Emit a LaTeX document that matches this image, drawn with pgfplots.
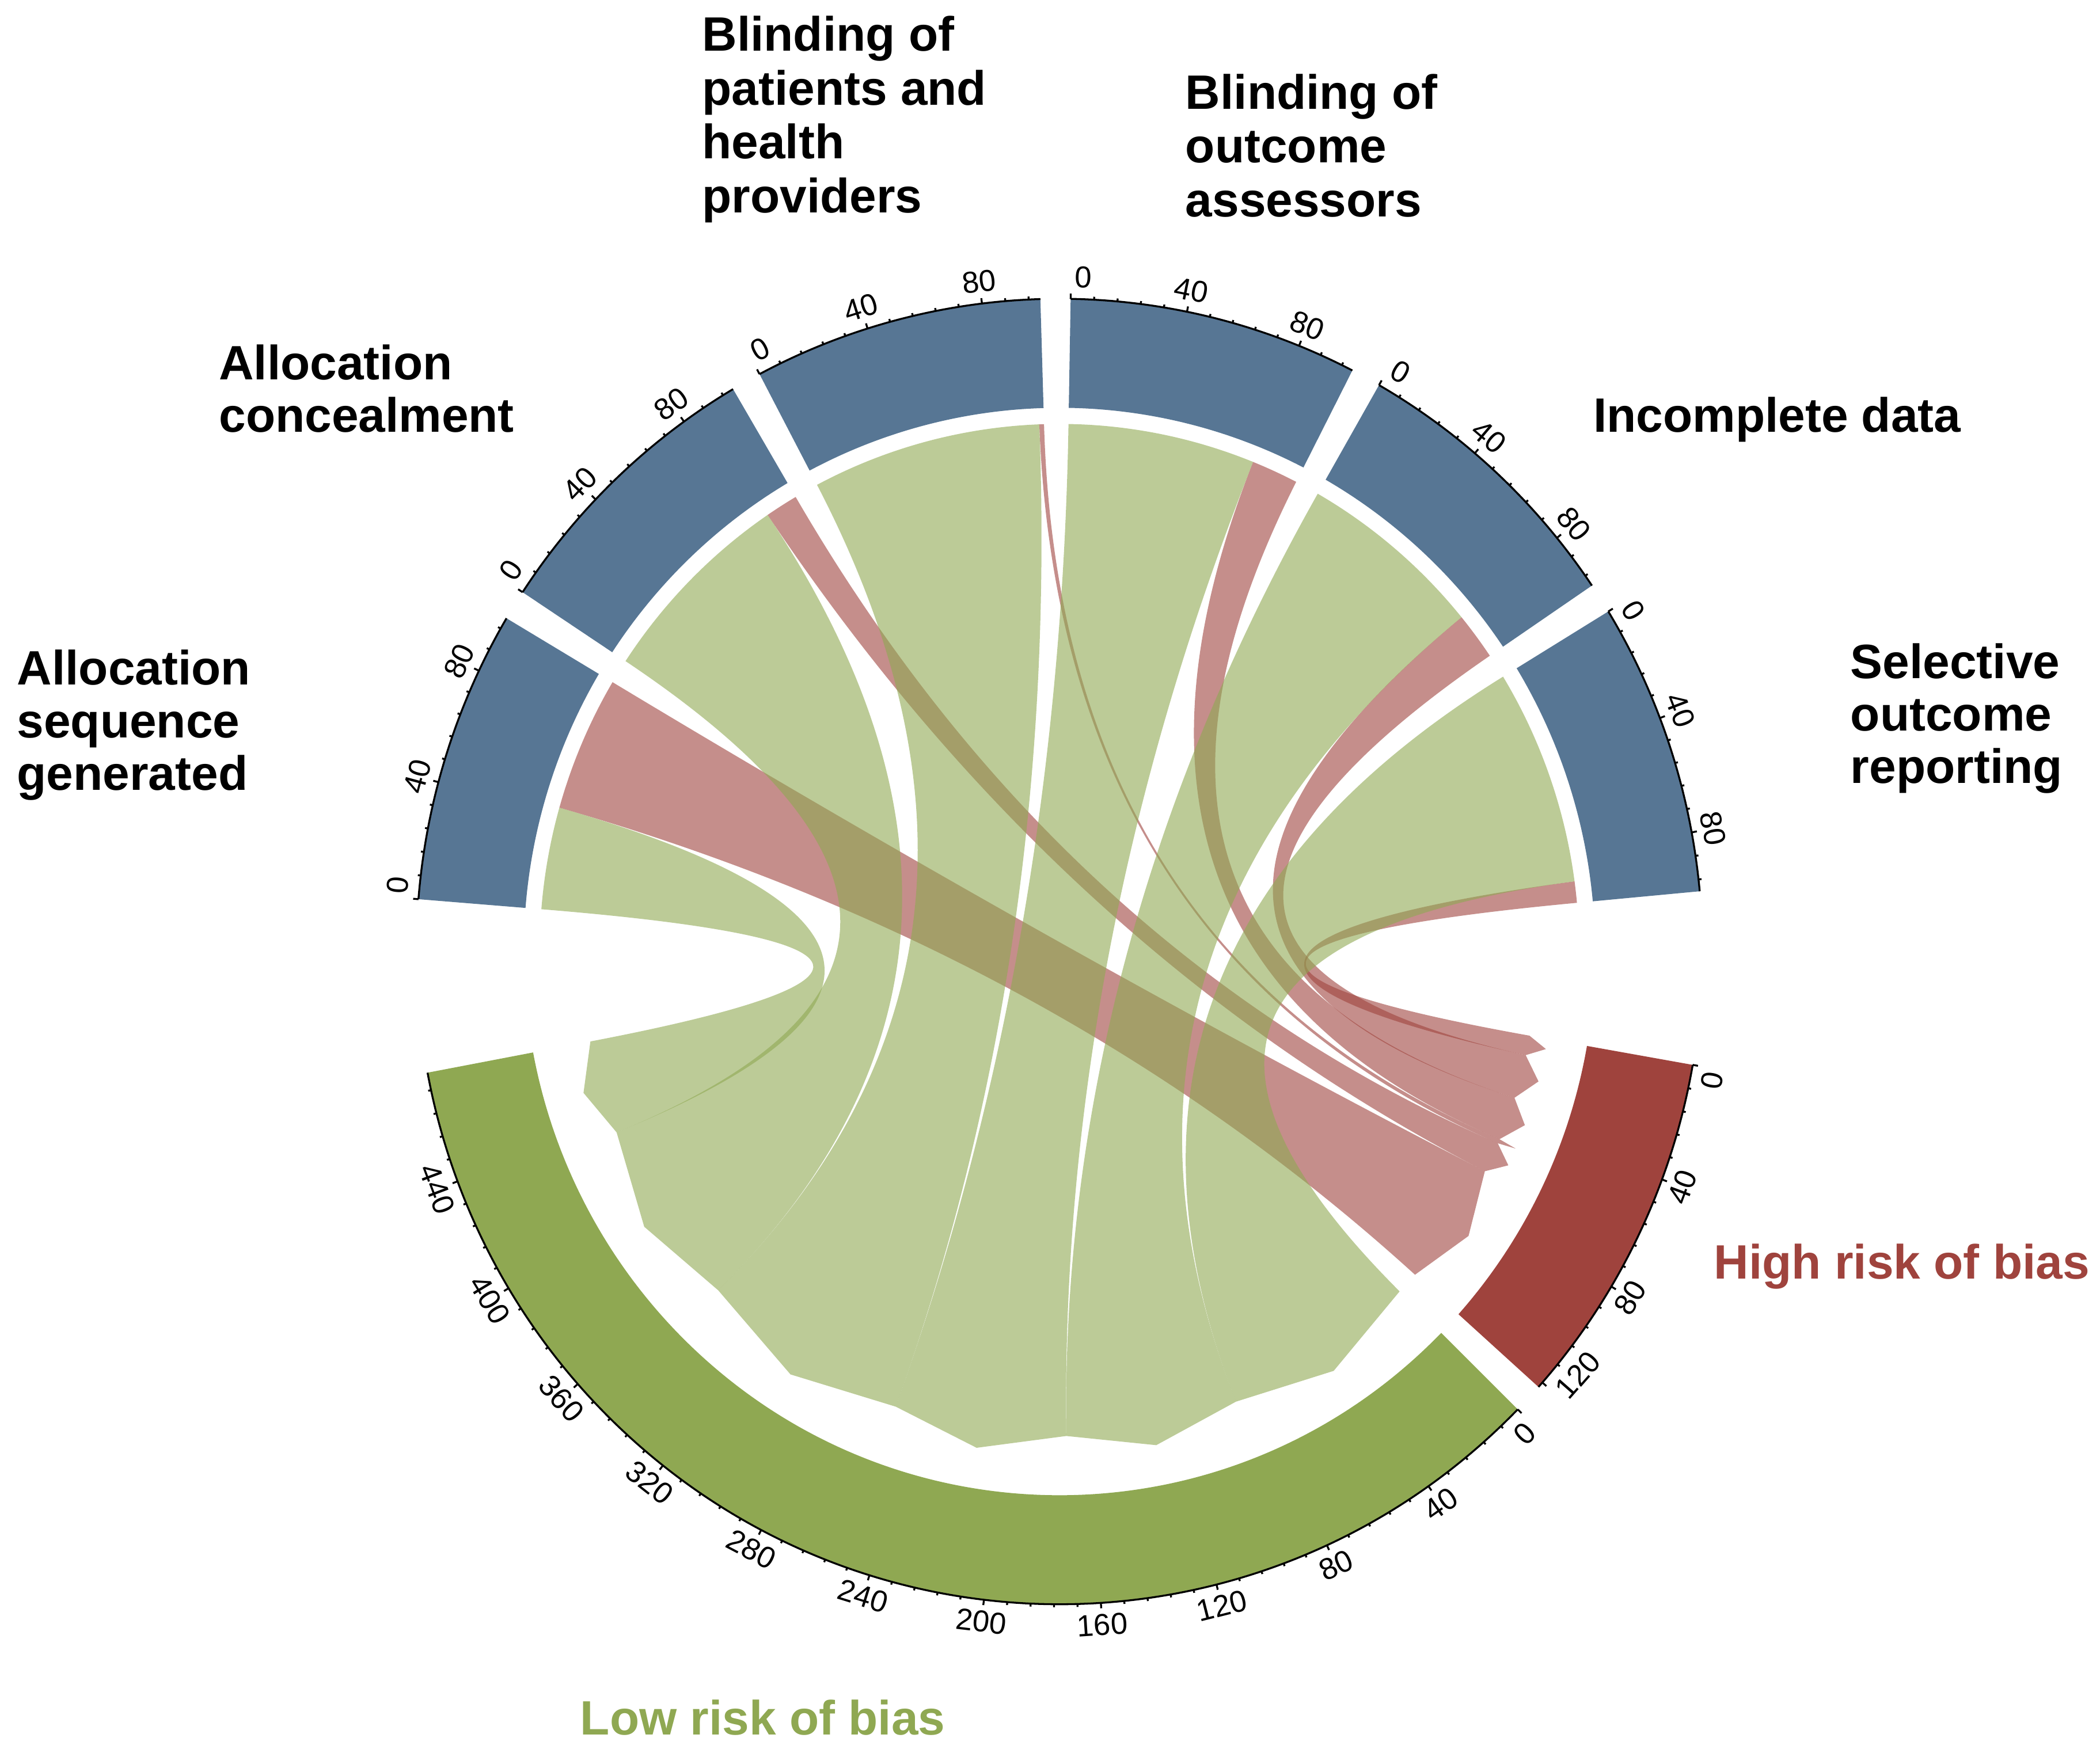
\documentclass[border=0pt]{standalone}
\usepackage{pgfplots}
\pgfplotsset{compat=1.18}
\usepackage{pgfplotstable}
\usepackage{fontspec}
\setmainfont{Liberation Sans}

\definecolor{domblue}{HTML}{577694}
\definecolor{lowgreen}{HTML}{8FA852}
\definecolor{highred}{HTML}{9F433D}

% trials judged low / high risk of bias in each domain
\pgfplotstableread{
domain low high
AS 43 57
AC 86 14
BP 98 2
BO 80 20
IN 80 20
SO 91 9
}\riskdata

% layout, in drawing units (0.1 mm vertically, the circle is a little narrower)
\def\Rout{485}  \def\RoutX{47.77mm} \def\RoutY{48.5mm}
\def\Rin{404}   \def\RinX{39.79mm}  \def\RinY{40.4mm}
\def\Rrib{392}  \def\RribX{38.61mm} \def\RribY{39.2mm}
\def\Rbase{360}
\def\Rtip{374}
\def\ud{0.261}   % degrees per trial
\def\sgap{2.7}
\def\bgap{15.3}
\def\astart{175.4}

\newcommand\cdpt[3]{%
  \pgfmathsetmacro\tmpx{(#2)*cos(#3)}%
  \pgfmathsetmacro\tmpy{(#2)*sin(#3)}%
  \expandafter\xdef\csname #1x\endcsname{\tmpx}%
  \expandafter\xdef\csname #1y\endcsname{\tmpy}}
\newcommand\cdv[1]{\csname #1\endcsname}
\newcommand\cdx[1]{\edef\cdxtmp{#1}\cdxtmp}

% sector angles (clockwise from the left)
\xdef\cdpos{\astart}\xdef\Ltot{0}\xdef\Htot{0}
\foreach \i in {0,...,5}{%
  \pgfplotstablegetelem{\i}{low}\of\riskdata \edef\vlo{\pgfplotsretval}%
  \pgfplotstablegetelem{\i}{high}\of\riskdata \edef\vhi{\pgfplotsretval}%
  \expandafter\xdef\csname lo\i\endcsname{\vlo}%
  \expandafter\xdef\csname hi\i\endcsname{\vhi}%
  \pgfmathsetmacro\vb{\cdpos-\vlo*\ud}%
  \pgfmathsetmacro\vc{\vb-\vhi*\ud}%
  \expandafter\xdef\csname sA\i\endcsname{\cdpos}%
  \expandafter\xdef\csname sM\i\endcsname{\vb}%
  \expandafter\xdef\csname sE\i\endcsname{\vc}%
  \pgfmathsetmacro\vd{\vc-\sgap}\xdef\cdpos{\vd}%
  \pgfmathsetmacro\vd{\Ltot+\vlo}\xdef\Ltot{\vd}%
  \pgfmathsetmacro\vd{\Htot+\vhi}\xdef\Htot{\vd}%
}
\edef\lastE{\cdv{sE5}}
\pgfmathsetmacro\cdHS{\lastE-\bgap}
\pgfmathsetmacro\cdHE{\cdHS-\Htot*\ud}
\pgfmathsetmacro\cdLS{\cdHE-\sgap}
\pgfmathsetmacro\cdLE{\cdLS-\Ltot*\ud}

% link ends on the two risk sectors (last domain nearest 0)
\xdef\accl{0}\xdef\acch{0}
\foreach \i in {5,4,3,2,1,0}{%
  \edef\vlo{\cdv{lo\i}}\edef\vhi{\cdv{hi\i}}%
  \pgfmathsetmacro\va{\cdLS-\accl*\ud}\pgfmathsetmacro\vb{\va-\vlo*\ud}%
  \expandafter\xdef\csname lT\i\endcsname{\va}\expandafter\xdef\csname lU\i\endcsname{\vb}%
  \pgfmathsetmacro\va{\cdHS-\acch*\ud}\pgfmathsetmacro\vb{\va-\vhi*\ud}%
  \expandafter\xdef\csname hT\i\endcsname{\va}\expandafter\xdef\csname hU\i\endcsname{\vb}%
  \pgfmathsetmacro\vd{\accl+\vlo}\xdef\accl{\vd}%
  \pgfmathsetmacro\vd{\acch+\vhi}\xdef\acch{\vd}%
}

\newcommand\mkribbon[5]{%
  \cdpt{r#1p}{\Rrib}{#2}\cdpt{r#1q}{\Rrib}{#3}%
  \cdpt{r#1s}{\Rbase}{#4}\cdpt{r#1u}{\Rbase}{#5}%
  \cdpt{r#1t}{\Rtip}{0.5*(#4)+0.5*(#5)}%
  \cdpt{r#1cp}{\Rrib/3}{#2}\cdpt{r#1cq}{\Rrib/3}{#3}%
  \cdpt{r#1cs}{\Rbase/3}{#4}\cdpt{r#1cu}{\Rbase/3}{#5}%
  \expandafter\xdef\csname r#1a\endcsname{#2}%
  \expandafter\xdef\csname r#1b\endcsname{#3}}
\foreach \i in {0,...,5}{%
  \edef\ka{\cdv{sA\i}}\edef\kb{\cdv{sM\i}}\edef\kc{\cdv{sE\i}}%
  \edef\kd{\cdv{hT\i}}\edef\ke{\cdv{hU\i}}\edef\kf{\cdv{lT\i}}\edef\kg{\cdv{lU\i}}%
  \mkribbon{h\i}{\kb}{\kc}{\kd}{\ke}%
  \mkribbon{l\i}{\ka}{\kb}{\kf}{\kg}}

\newcommand\mksector[3]{%
  \cdpt{q#1i}{\Rin}{#2}\cdpt{q#1o}{\Rout}{#3}\cdpt{q#1a}{\Rout}{#2}%
  \expandafter\xdef\csname q#1s\endcsname{#2}%
  \expandafter\xdef\csname q#1e\endcsname{#3}}
\foreach \i in {0,...,5}{\edef\ka{\cdv{sA\i}}\edef\kc{\cdv{sE\i}}\mksector{\i}{\ka}{\kc}}
\mksector{H}{\cdHS}{\cdHE}
\mksector{L}{\cdLS}{\cdLE}

% ticks every 8 trials, labels every 40
\newcount\ntk \newcount\nlb
\newcommand\maketicks[2]{%
  \pgfmathtruncatemacro\nt{floor((#2)/8+0.001)}%
  \foreach \k in {0,...,\nt}{%
    \pgfmathsetmacro\ang{(#1)-\k*8*\ud}%
    \pgfmathtruncatemacro\val{\k*8}%
    \pgfmathtruncatemacro\ismaj{mod(\val,40)==0}%
    \global\advance\ntk by 1\relax
    \ifnum\ismaj=1 \def\tklen{4}\else\def\tklen{2.2}\fi
    \cdpt{tka\the\ntk}{\Rout}{\ang}%
    \cdpt{tkb\the\ntk}{\Rout+\tklen}{\ang}%
    \ifnum\ismaj=1
      \global\advance\nlb by 1\relax
      \cdpt{lb\the\nlb}{\Rout+5.5}{\ang}%
      \pgfmathtruncatemacro\tkup{sin(\ang)+0.0001>0}%
      \ifnum\tkup=1 \pgfmathsetmacro\rot{\ang-90}\else\pgfmathsetmacro\rot{\ang+90}\fi
      % first and last labels are kept inside the sector
      \def\tkh{0}%
      \ifnum\val=0 \def\tkh{1}\fi
      \pgfmathtruncatemacro\tkl{\val+8>(#2)}%
      \ifnum\tkl=1 \def\tkh{2}\fi
      \expandafter\xdef\csname lbr\the\nlb\endcsname{\rot}%
      \expandafter\xdef\csname lbu\the\nlb\endcsname{\tkup}%
      \expandafter\xdef\csname lbh\the\nlb\endcsname{\tkh}%
      \expandafter\xdef\csname lbt\the\nlb\endcsname{\val}%
    \fi}}
\foreach \i in {0,...,5}{%
  \edef\ka{\cdv{sA\i}}\edef\klo{\cdv{lo\i}}\edef\khi{\cdv{hi\i}}%
  \pgfmathsetmacro\tot{\klo+\khi}\maketicks{\ka}{\tot}}
\maketicks{\cdHS}{\Htot}
\maketicks{\cdLS}{\Ltot}
\xdef\ntkn{\the\ntk}\xdef\nlbn{\the\nlb}

\newcommand\cdRibbon[2]{\cdx{\noexpand\fill[#2, fill opacity=0.6]
  (axis cs:\cdv{r#1px},\cdv{r#1py})
  arc[start angle=\cdv{r#1a}, end angle=\cdv{r#1b}, x radius=\RribX, y radius=\RribY]
  .. controls (axis cs:\cdv{r#1cqx},\cdv{r#1cqy}) and (axis cs:\cdv{r#1csx},\cdv{r#1csy}) ..
  (axis cs:\cdv{r#1sx},\cdv{r#1sy})
  -- (axis cs:\cdv{r#1tx},\cdv{r#1ty})
  -- (axis cs:\cdv{r#1ux},\cdv{r#1uy})
  .. controls (axis cs:\cdv{r#1cux},\cdv{r#1cuy}) and (axis cs:\cdv{r#1cpx},\cdv{r#1cpy}) ..
  (axis cs:\cdv{r#1px},\cdv{r#1py}) -- cycle;}}
\newcommand\cdSector[2]{\cdx{\noexpand\fill[#2] (axis cs:\cdv{q#1ix},\cdv{q#1iy})
  arc[start angle=\cdv{q#1s}, end angle=\cdv{q#1e}, x radius=\RinX, y radius=\RinY]
  -- (axis cs:\cdv{q#1ox},\cdv{q#1oy})
  arc[start angle=\cdv{q#1e}, end angle=\cdv{q#1s}, x radius=\RoutX, y radius=\RoutY] -- cycle;
  \noexpand\draw[line width=0.4pt] (axis cs:\cdv{q#1ax},\cdv{q#1ay})
  arc[start angle=\cdv{q#1s}, end angle=\cdv{q#1e}, x radius=\RoutX, y radius=\RoutY];}}
\newcommand\cdTick[1]{\cdx{\noexpand\draw[line width=0.4pt]
  (axis cs:\cdv{tka#1x},\cdv{tka#1y}) -- (axis cs:\cdv{tkb#1x},\cdv{tkb#1y});}}
\newcommand\cdTickLabel[1]{%
  \ifnum\cdv{lbu#1}=1
    \ifcase\cdv{lbh#1} \def\tkanc{south}\or\def\tkanc{south west}\or\def\tkanc{south east}\fi
  \else
    \ifcase\cdv{lbh#1} \def\tkanc{north}\or\def\tkanc{north east}\or\def\tkanc{north west}\fi
  \fi
  \cdx{\noexpand\node[tlab, anchor=\tkanc, rotate=\cdv{lbr#1}]
    at (axis cs:\cdv{lb#1x},\cdv{lb#1y}) {\cdv{lbt#1}};}}

\tikzset{
  tlab/.style={font=\fontsize{6.4}{7.5}\selectfont, inner sep=0.6pt},
  dlab/.style={anchor=base west, inner sep=0pt, font=\fontsize{10.2}{12}\selectfont\bfseries}}

\begin{document}
\begin{tikzpicture}
\begin{axis}[x=0.0985mm, y=0.1mm,
  xmin=-799, xmax=784.8, ymin=-587.3, ymax=707,
  hide axis, clip=false]
\path (axis cs:-799,-587.3) rectangle (axis cs:784.8,707);
% links: high risk first, then low risk on top
\pgfplotsinvokeforeach{0,...,5}{\cdRibbon{h#1}{highred}}
\pgfplotsinvokeforeach{0,...,5}{\cdRibbon{l#1}{lowgreen}}
% sectors and their axes
\pgfplotsinvokeforeach{0,...,5}{\cdSector{#1}{domblue}}
\cdSector{H}{highred}
\cdSector{L}{lowgreen}
\pgfplotsinvokeforeach{1,...,\ntkn}{\cdTick{#1}}
\pgfplotsinvokeforeach{1,...,\nlbn}{\cdTickLabel{#1}}
% sector names
\node[dlab] at (axis cs:-786.8,198) {Allocation};
\node[dlab] at (axis cs:-786.8,159) {sequence};
\node[dlab] at (axis cs:-786.8,120) {generated};
\node[dlab] at (axis cs:-634.5,425) {Allocation};
\node[dlab] at (axis cs:-634.5,386) {concealment};
\node[dlab] at (axis cs:-270.1,669) {Blinding of};
\node[dlab] at (axis cs:-270.1,629) {patients and};
\node[dlab] at (axis cs:-270.1,589) {health};
\node[dlab] at (axis cs:-270.1,549) {providers};
\node[dlab] at (axis cs:94.4,626) {Blinding of};
\node[dlab] at (axis cs:94.4,586) {outcome};
\node[dlab] at (axis cs:94.4,546) {assessors};
\node[dlab] at (axis cs:402,386) {Incomplete data};
\node[dlab] at (axis cs:596,203) {Selective};
\node[dlab] at (axis cs:596,164) {outcome};
\node[dlab] at (axis cs:596,125) {reporting};
\node[dlab, text=highred] at (axis cs:493,-243) {High risk of bias};
\node[dlab, text=lowgreen] at (axis cs:-362,-582) {Low risk of bias};
\end{axis}
\end{tikzpicture}
\end{document}
